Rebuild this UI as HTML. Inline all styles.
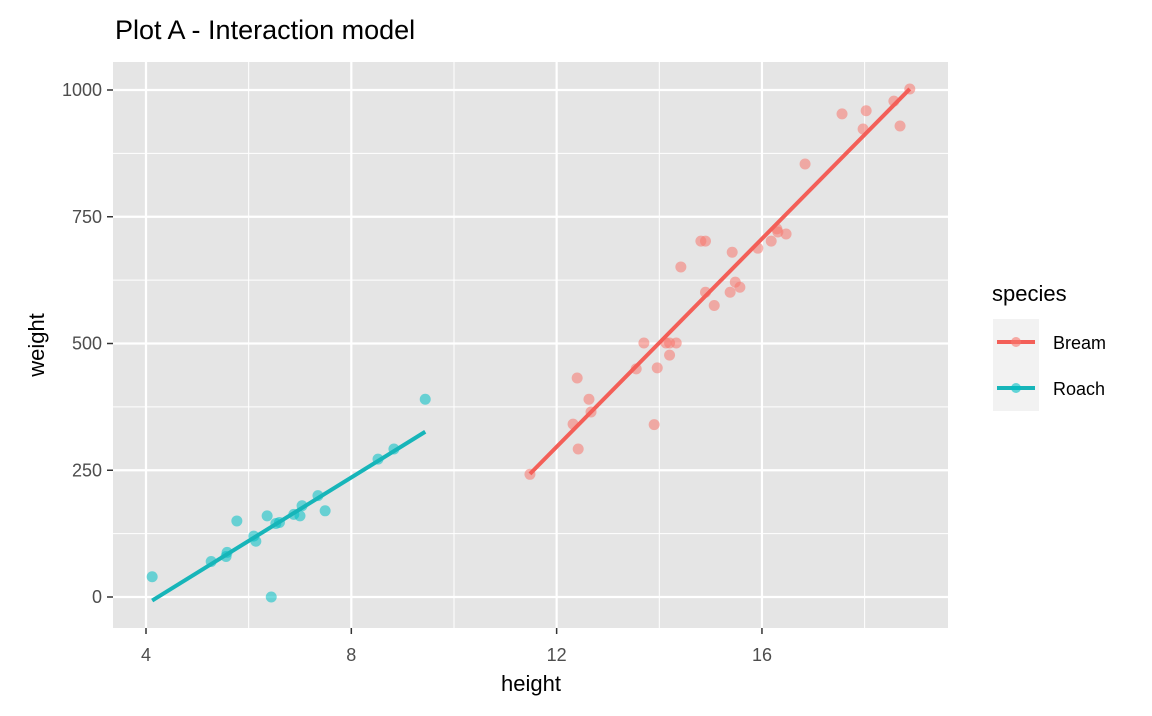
<!DOCTYPE html>
<html><head><meta charset="utf-8"><style>
body{margin:0;background:#fff;font-family:"Liberation Sans",Arial,sans-serif}
</style></head><body>
<svg id="chart" width="1152" height="711" xmlns="http://www.w3.org/2000/svg" font-family="Liberation Sans, Arial, sans-serif">
<text x="115" y="39" font-size="27" fill="#000">Plot A - Interaction model</text>
<rect x="113" y="62" width="835" height="566" fill="#e5e5e5"/>
<g id="grid"></g><g id="marks"></g><g id="axes"></g>
<text x="531" y="691" font-size="22" text-anchor="middle">height</text>
<text transform="translate(44,345) rotate(-90)" font-size="22" text-anchor="middle">weight</text>
<g>
<text x="992" y="301" font-size="22">species</text>
<rect x="993" y="319" width="46" height="46" fill="#f2f2f2"/>
<rect x="993" y="365" width="46" height="46" fill="#f2f2f2"/>
<g>
<line x1="997" y1="342" x2="1035" y2="342" stroke="#f35f58" stroke-width="4"/>
<circle cx="1016" cy="342" r="5" fill="#f8766d" fill-opacity="0.6"/>
<text x="1053" y="349" font-size="18">Bream</text></g>
<g>
<line x1="997" y1="388" x2="1035" y2="388" stroke="#17b5b9" stroke-width="4"/>
<circle cx="1016" cy="388" r="5" fill="#00bfc4" fill-opacity="0.6"/>
<text x="1053" y="395" font-size="18">Roach</text></g>
</g>
</svg>
<script>
const xTicks=[4,8,12,16];
const yTicks=[0,250,500,750,1000];
const roachHeight=[4.12,5.27,5.56,5.58,5.77,6.1,6.14,6.36,6.44,6.53,6.6,6.88,7.0,7.04,7.35,7.49,8.52,8.83,9.44];
const roachWeight=[40,70,80,88,150,120,110,160,0,145,147,163,160,180,200,170,272,292,390];
const breamHeight=[11.48,12.42,12.32,12.4,12.63,12.67,13.55,13.9,13.96,13.7,14.13,14.2,14.33,14.2,14.42,14.81,14.9,14.9,15.07,15.42,15.38,15.48,15.57,15.92,16.18,16.29,16.31,16.47,16.84,17.56,18.03,17.97,18.57,18.69,18.88];
const breamWeight=[242,292,341,432,390,365,450,340,452,501,501,501,501,477,651,702,702,601,575,680,601,621,611,688,702,726,720,716,854,953,959,923,978,929,1002];
const roachFit=[-265,62.6];
const breamFit=[-935,102.6];
const NS="http://www.w3.org/2000/svg";
const X=v=>146+(v-4)*51.33, Y=w=>597-w*0.507;
function mk(t,a,p){const e=document.createElementNS(NS,t);for(const k in a)e.setAttribute(k,a[k]);p.appendChild(e);return e;}
const grid=document.getElementById('grid'),marks=document.getElementById('marks'),axes=document.getElementById('axes');
[6,10,14,18].forEach(v=>{const l=mk('line',{x1:X(v),x2:X(v),y1:62,y2:628,stroke:'#fff','stroke-width':1},grid);

});
[125,375,625,875].forEach(v=>{const l=mk('line',{x1:113,x2:948,y1:Y(v),y2:Y(v),stroke:'#fff','stroke-width':1},grid);

});
xTicks.forEach(v=>{const l=mk('line',{x1:X(v),x2:X(v),y1:62,y2:628,stroke:'#fff','stroke-width':2.2},grid);


const tk=mk('line',{x1:X(v),x2:X(v),y1:628,y2:634,stroke:'#333','stroke-width':1.5},axes);


const t=mk('text',{x:X(v),y:661,'font-size':18,fill:'#4d4d4d','text-anchor':'middle'},axes);t.textContent=v;

});
yTicks.forEach(v=>{const l=mk('line',{x1:113,x2:948,y1:Y(v),y2:Y(v),stroke:'#fff','stroke-width':2.2},grid);


const tk=mk('line',{x1:107,x2:113,y1:Y(v),y2:Y(v),stroke:'#333','stroke-width':1.5},axes);


const t=mk('text',{x:102,y:Y(v)+6,'font-size':18,fill:'#4d4d4d','text-anchor':'end'},axes);t.textContent=v;

});
function series(hs,ws,fit,col,lcol,name){
  hs.forEach((h,i)=>{const c=mk('circle',{cx:X(h),cy:Y(ws[i]),r:5.5,fill:col,'fill-opacity':0.55},marks);
  
  });
  const h0=Math.min(...hs),h1=Math.max(...hs);
  const l=mk('line',{x1:X(h0),y1:Y(fit[0]+fit[1]*h0),x2:X(h1),y2:Y(fit[0]+fit[1]*h1),stroke:lcol,'stroke-width':4},marks);
  
  
}
series(roachHeight,roachWeight,roachFit,'#00bfc4','#17b5b9','roach');
series(breamHeight,breamWeight,breamFit,'#f8766d','#f35f58','bream');
</script>
</body></html>
